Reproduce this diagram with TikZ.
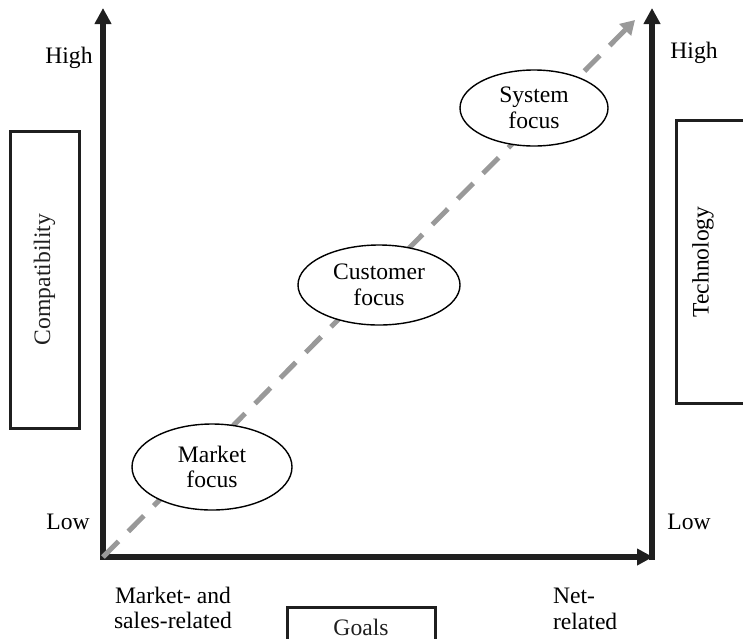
\documentclass[tikz,border=0pt]{standalone}
\usepackage{fontspec}
\setmainfont{Liberation Serif}
\usetikzlibrary{positioning,arrows.meta,shapes.geometric}

\begin{document}
\begin{tikzpicture}[x=0.5pt, y=-0.5pt, font=\fontsize{11.8}{12.8}\selectfont,
  axis/.style={line width=3pt, black!88},
  trend/.style={line width=2.5pt, black!40, dash pattern=on 11pt off 7pt},
  focus/.style={draw, ellipse, fill=white, line width=0.7pt, align=center, inner sep=0pt},
  sidebox/.style={draw, line width=1.5pt, black!88}]
\useasboundingbox (0,0) rectangle (743,638);

% axes
\coordinate (ytop) at (103,8);
\coordinate (o) at (103,557);
\coordinate (xend) at (653,557);
\coordinate (rbot) at (652,560);
\coordinate (rtop) at (652,8);
\draw[axis, {Triangle[length=8pt,width=8pt]}-{Triangle[length=8pt,width=8pt]}] (ytop) -- (o) -- (xend);
\draw[axis, -{Triangle[length=8pt,width=8pt]}] (rbot) -- (rtop);

% trend
\coordinate (dtip) at (635,20);
\draw[trend, -{Triangle[length=7pt,width=8pt]}] (o) -- (dtip);

\node[focus, minimum width=80pt, minimum height=43pt] (market) at (212,467) {Market\\focus};
\node[focus, minimum width=81pt, minimum height=40pt] (customer) at (379,285) {Customer\\focus};
\node[focus, minimum width=74pt, minimum height=38pt] (system) at (534,108) {System\\focus};

% scale labels
\node (lhigh) at (69,58) {High};
\node (llow) at (68,522) {Low};
\node (rhigh) at (694,53) {High};
\node (rlow) at (689,522) {Low};
\node[align=center] (xlow) at (173,608) {Market- and\\sales-related};
\node[align=left, anchor=west] (xhigh) at (546,609) {Net-\\related};

% boxes
\node[sidebox, rotate=90, minimum width=148.5pt, minimum height=34.5pt] (compat) at (44.5,279.5) {Compatibility};
\draw[sidebox] (676,403) rectangle (760,120);
\node[rotate=90] (tech) at (703,262) {Technology};
\node[sidebox, minimum width=74pt, minimum height=20pt] (goals) at (361,627) {Goals};
\end{tikzpicture}
\end{document}
